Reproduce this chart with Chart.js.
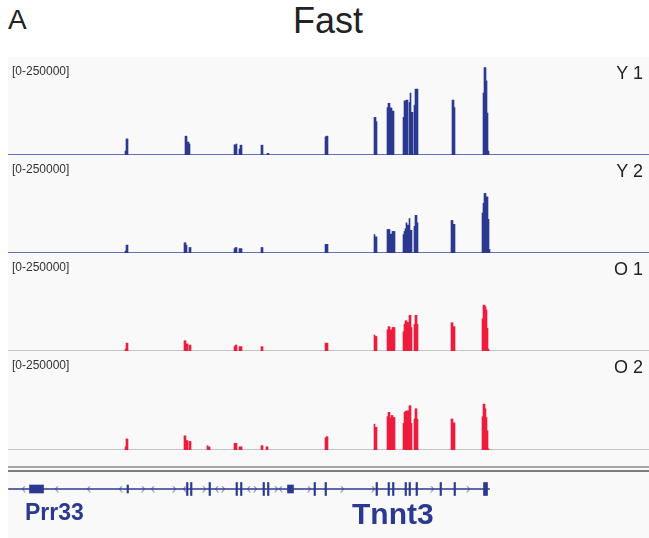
<!DOCTYPE html>
<html>
<head>
<meta charset="utf-8">
<script src="https://cdn.jsdelivr.net/npm/chart.js@4"></script>
<style>
  body { margin: 0; width: 649px; height: 538px; position: relative; background: #fff; font-family: "Liberation Sans", Arial, sans-serif; overflow: hidden; }
  .abs { position: absolute; }
  #panel { left: 8px; top: 57px; right: 0; bottom: 0; background: #f9f9f9; }
  .range { left: 12px; font-size: 12px; color: #333; }
  .name { right: 6px; font-size: 18px; color: #222; }
  .gene { font-weight: bold; color: #2b3990; }
  canvas { position: absolute; left: 8px; }
</style>
</head>
<body>
<div id="panel" class="abs"></div>
<div class="abs" style="left:8px; top:4px; font-size:28px; color:#222;">A</div>
<div class="abs" style="left:328px; top:0px; font-size:36px; color:#222; transform:translateX(-50%);">Fast</div>

<canvas id="t0" width="641" height="98" style="top:57px"></canvas>
<canvas id="t1" width="641" height="98" style="top:155px"></canvas>
<canvas id="t2" width="641" height="98" style="top:253px"></canvas>
<canvas id="t3" width="641" height="98" style="top:352px"></canvas>

<div class="abs range" style="top:64px">[0-250000]</div>
<div class="abs range" style="top:162px">[0-250000]</div>
<div class="abs range" style="top:260px">[0-250000]</div>
<div class="abs range" style="top:358px">[0-250000]</div>
<div class="abs name" style="top:63px">Y 1</div>
<div class="abs name" style="top:161px">Y 2</div>
<div class="abs name" style="top:259px">O 1</div>
<div class="abs name" style="top:357px">O 2</div>

<div class="abs" style="left:8px; right:0; top:466px; height:2px; background:#a4a4a4;"></div>
<div class="abs" style="left:8px; right:0; top:470px; height:2px; background:#7e7e7e;"></div>

<canvas id="genes" width="641" height="26" style="top:476px"></canvas>
<div class="abs gene" style="left:25px; top:499px; font-size:23px;">Prr33</div>
<div class="abs gene" style="left:352px; top:497px; font-size:30px;">Tnnt3</div>

<script>
// coverage peaks: [start kb, read counts in consecutive 100 bp bins]
const Y1 = [
  [12.5, [10000, 41000, 41000]],
  [18.5, [48000, 48000, 33000, 33000, 28000]],
  [23.4, [26000, 26000, 28000]],
  [23.9, [15000, 25000, 25000]],
  [26.1, [25000, 25000]],
  [26.7, [4000, 4000]],
  [32.5, [46000, 48000, 48000]],
  [37.4, [96000, 96000, 85000]],
  [38.7, [121000, 132000, 132000, 120000, 120000, 112000, 112000]],
  [40.3, [96000, 138000, 138000, 140000, 140000]],
  [40.9, [134000, 158000, 109000, 109000]],
  [41.4, [127000, 168000, 168000, 168000]],
  [45.2, [140000, 140000, 121000]],
  [48.3, [158000, 223000, 223000, 189000, 107000, 10000]]
];
const Y2 = [
  [12.5, [5000, 20000, 20000]],
  [18.4, [26000, 26000, 20000]],
  [18.9, [14000, 14000]],
  [23.4, [11000, 14000, 14000]],
  [23.9, [11000, 11000, 11000]],
  [26.1, [14000, 14000]],
  [32.5, [22000, 22000, 22000]],
  [37.4, [47000, 41000, 41000]],
  [38.7, [60000, 60000, 60000, 48000, 48000, 55000, 55000, 55000]],
  [40.3, [47000, 55000, 62000, 77000, 71000, 71000, 88000, 58000, 58000]],
  [41.4, [68000, 96000, 96000, 77000]],
  [45.1, [83000, 83000, 73000, 73000]],
  [48.2, [102000, 127000, 152000, 152000, 143000, 143000, 86000, 9000]]
];
const O1 = [
  [12.5, [5000, 20000, 20000]],
  [18.4, [26000, 26000, 18000, 18000]],
  [18.9, [15000, 15000]],
  [23.4, [11000, 15000, 15000]],
  [23.9, [11000, 11000, 11000]],
  [26.1, [11000, 11000]],
  [32.5, [20000, 20000, 20000]],
  [37.4, [41000, 37000, 37000]],
  [38.7, [54000, 62000, 62000, 54000, 54000, 60000, 60000, 60000]],
  [40.3, [49000, 68000, 77000, 77000, 73000, 73000, 91000, 91000, 60000]],
  [41.4, [68000, 91000, 91000, 68000]],
  [45.1, [72000, 72000, 62000, 62000]],
  [48.2, [82000, 117000, 117000, 113000, 105000, 58000, 5000]]
];
const O2 = [
  [12.5, [8000, 28000, 28000]],
  [18.4, [36000, 36000, 24000, 24000]],
  [18.9, [22000, 22000]],
  [20.7, [11000, 8000, 8000]],
  [23.4, [17000, 17000, 17000]],
  [23.9, [8000, 8000, 8000]],
  [26.1, [11000, 11000]],
  [26.6, [8000, 8000]],
  [32.5, [31000, 34000, 34000]],
  [37.4, [66000, 58000, 58000]],
  [38.7, [85000, 96000, 96000, 81000, 88000, 88000, 83000, 83000]],
  [40.3, [68000, 96000, 99000, 99000, 100000, 100000, 113000, 113000, 68000]],
  [41.4, [79000, 105000, 105000, 78000]],
  [45.1, [79000, 79000, 69000, 69000]],
  [48.2, [85000, 117000, 117000, 105000, 83000, 49000, 3000]]
];
const tracks = [Y1, Y2, O1, O2];
const trackColors = ['#2b3990', '#2b3990', '#ee1d3d', '#ee1d3d'];
const baseColors = ['#6470bb', '#6470bb', '#c4c4c4', '#c4c4c4'];
const rangeMax = 250000;

// gene models (kb)
const intron = [0.8, 48.9];
const codingExons = [[18.6, 18.75], [19.0, 19.15], [20.85, 21.0], [23.55, 23.7], [24.0, 24.15],
  [26.25, 26.4], [26.7, 26.85], [31.35, 31.5], [32.45, 32.6], [37.55, 37.7], [38.75, 38.9],
  [39.2, 39.35], [40.45, 40.6], [40.85, 41.0], [41.55, 41.7], [43.95, 44.1], [45.35, 45.5], [48.3, 48.7]];
const utrExons = [[2.9, 4.3], [12.65, 12.8], [28.7, 29.3]];
const minusChevrons = [2.3, 5.6, 8.8, 12.0, 15.2, 18.4, 21.6, 24.8, 28.0];
const plusChevrons = [14.3, 17.4, 20.4, 22.3, 25.5, 27.6, 30.9, 34.2, 37.3, 43.2, 46.8];

const xMin = 0.75, xMax = 64.85;

function expand(peaks) {
  const pts = [];
  peaks.forEach(([start, vals]) => {
    vals.forEach((v, i) => pts.push({ x: +(start + i * 0.1).toFixed(1), y: v }));
  });
  return pts;
}

tracks.forEach((peaks, i) => {
  new Chart(document.getElementById('t' + i), {
    type: 'bar',
    data: {
      datasets: [{
        data: expand(peaks),
        backgroundColor: trackColors[i],
        barPercentage: 1,
        categoryPercentage: 1,
        borderWidth: 0
      }]
    },
    options: {
      responsive: false,
      animation: false,
      layout: { padding: 0 },
      plugins: { legend: { display: false }, tooltip: { enabled: false } },
      scales: {
        x: {
          type: 'linear', min: xMin, max: xMax, offset: false,
          grid: { display: false, drawTicks: false },
          ticks: { display: false },
          border: { color: baseColors[i], width: 2 }
        },
        y: { min: 0, max: rangeMax, display: false }
      }
    }
  });
});

function chevron(dir) {
  const c = document.createElement('canvas');
  c.width = 5; c.height = 7;
  const g = c.getContext('2d');
  g.strokeStyle = '#4a56a8';
  g.lineWidth = 1;
  g.beginPath();
  if (dir < 0) { g.moveTo(4, 0.5); g.lineTo(1.5, 3.5); g.lineTo(4, 6.5); }
  else { g.moveTo(1, 0.5); g.lineTo(3.5, 3.5); g.lineTo(1, 6.5); }
  g.stroke();
  return c;
}

const navy = '#2b3990';
new Chart(document.getElementById('genes'), {
  type: 'bar',
  data: {
    datasets: [
      { type: 'bar', indexAxis: 'y', grouped: false, data: [{ y: 0, x: intron }], backgroundColor: navy, barThickness: 1 },
      { type: 'bar', indexAxis: 'y', grouped: false, data: utrExons.map(e => ({ y: 0, x: e })), backgroundColor: navy, barThickness: 8 },
      { type: 'bar', indexAxis: 'y', grouped: false, data: codingExons.map(e => ({ y: 0, x: e })), backgroundColor: navy, barThickness: 13 },
      { type: 'scatter', data: minusChevrons.map(p => ({ x: p, y: 0 })), pointStyle: chevron(-1) },
      { type: 'scatter', data: plusChevrons.map(p => ({ x: p, y: 0 })), pointStyle: chevron(1) }
    ]
  },
  options: {
    responsive: false,
    animation: false,
    layout: { padding: 0, autoPadding: false },
    plugins: { legend: { display: false }, tooltip: { enabled: false } },
    scales: {
      x: { type: 'linear', min: xMin, max: xMax, offset: false, display: false },
      y: { type: 'linear', min: -1, max: 1, offset: false, display: false }
    }
  }
});
</script>
</body>
</html>
